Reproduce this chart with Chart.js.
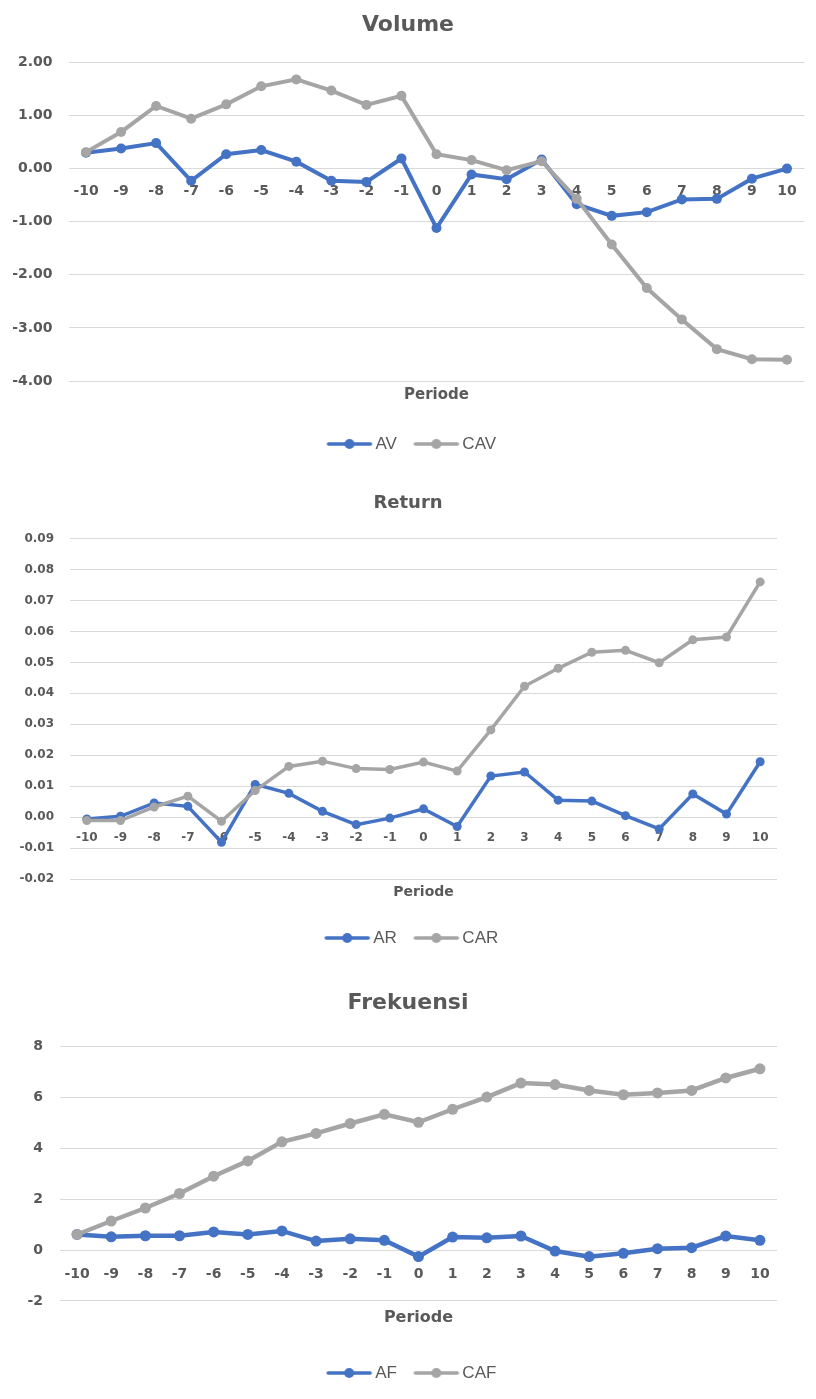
<!DOCTYPE html>
<html>
<head>
<meta charset="utf-8">
<title>Volume, Return, Frekuensi</title>
<script src="https://cdn.jsdelivr.net/npm/chart.js@4.4.1/dist/chart.umd.min.js"></script>
<style>
  body { margin: 0; background: #fff; }
  .box { position: absolute; left: 0; width: 816px; }
</style>
</head>
<body>
<div class="box" style="top:0;height:470px"><canvas id="volume-chart"></canvas></div>
<div class="box" style="top:480px;height:480px"><canvas id="return-chart"></canvas></div>
<div class="box" style="top:960px;height:439px"><canvas id="freq-chart"></canvas></div>
<script>
// periode -10 .. 10
const periods = ['-10', '-9', '-8', '-7', '-6', '-5', '-4', '-3', '-2', '-1', '0', '1', '2', '3', '4', '5', '6', '7', '8', '9', '10'];

// volume
const av  = [0.30, 0.38, 0.48, -0.23, 0.27, 0.35, 0.13, -0.23, -0.25, 0.19, -1.12, -0.11, -0.20, 0.17, -0.67, -0.89, -0.82, -0.58, -0.57, -0.19, 0.00];
const cav = [0.31, 0.69, 1.18, 0.94, 1.21, 1.55, 1.68, 1.47, 1.20, 1.37, 0.27, 0.16, -0.03, 0.14, -0.57, -1.43, -2.25, -2.84, -3.40, -3.59, -3.60];
const volumeTicks = [-4, -3, -2, -1, 0, 1, 2];

// return
const ar  = [-0.0006, 0.0003, 0.0046, 0.0035, -0.0081, 0.0106, 0.0077, 0.0019, -0.0024, -0.0003, 0.0027, -0.0030, 0.0133, 0.0146, 0.0055, 0.0052, 0.0005, -0.0038, 0.0075, 0.0010, 0.0179];
const car = [-0.0011, -0.0011, 0.0033, 0.0068, -0.0013, 0.0086, 0.0164, 0.0181, 0.0157, 0.0154, 0.0178, 0.0149, 0.0282, 0.0423, 0.0481, 0.0533, 0.0539, 0.0499, 0.0573, 0.0582, 0.0760];
const returnTicks = [-0.02, -0.01, 0, 0.01, 0.02, 0.03, 0.04, 0.05, 0.06, 0.07, 0.08, 0.09];

// frekuensi
const af  = [0.61, 0.52, 0.56, 0.56, 0.71, 0.61, 0.75, 0.35, 0.44, 0.38, -0.26, 0.51, 0.48, 0.55, -0.04, -0.26, -0.13, 0.05, 0.09, 0.55, 0.38];
const caf = [0.61, 1.14, 1.65, 2.22, 2.90, 3.50, 4.25, 4.58, 4.97, 5.33, 5.02, 5.53, 6.01, 6.56, 6.50, 6.27, 6.10, 6.17, 6.27, 6.76, 7.12];
const freqTicks = [-2, 0, 2, 4, 6, 8];

const blue = '#4472C4';
const grey = '#A5A5A5';
const textColor = '#595959';
const gridColor = '#D9D9D9';
const font = "'DejaVu Sans', Verdana, sans-serif";
const legendFont = "'Liberation Sans Narrow', 'Liberation Sans', Arial, sans-serif";

// excel style legend key: line with a dot in the middle, left part of the image kept empty
// so there is a gap after the previous entry
function legendKey(color) {
    const c = document.createElement('canvas');
    c.width = 60;
    c.height = 14;
    const g = c.getContext('2d');
    g.strokeStyle = color;
    g.lineWidth = 3.5;
    g.lineCap = 'round';
    g.beginPath();
    g.moveTo(15, 7);
    g.lineTo(57, 7);
    g.stroke();
    g.fillStyle = color;
    g.beginPath();
    g.arc(36, 7, 5, 0, Math.PI * 2);
    g.fill();
    return c;
}

function makeChart(id, s) {
    const ctx = document.getElementById(id).getContext('2d');
    const datasets = s.names.map((name, i) => ({
        label: name,
        data: s.series[i],
        borderColor: i === 0 ? blue : grey,
        backgroundColor: i === 0 ? blue : grey,
        pointBackgroundColor: i === 0 ? blue : grey,
        borderWidth: s.lineWidth,
        pointRadius: s.pointRadius,
        pointBorderWidth: 0,
        pointHoverRadius: s.pointRadius,
        tension: 0,
        order: i === 0 ? 1 : 0
    }));

    return new Chart(ctx, {
        type: 'line',
        data: { labels: periods, datasets: datasets },
        options: {
            responsive: true,
            maintainAspectRatio: false,
            animation: false,
            layout: { padding: { left: 0, right: 0, top: 0, bottom: s.bottom } },
            plugins: {
                title: {
                    display: true,
                    text: s.title,
                    color: textColor,
                    font: { family: font, size: s.titleSize, weight: 'bold' },
                    padding: s.titlePad
                },
                subtitle: {
                    display: true,
                    text: 'Periode',
                    position: 'bottom',
                    fullSize: false,
                    weight: 500,
                    color: textColor,
                    font: { family: font, size: s.periodeSize, weight: 'bold' },
                    padding: s.periodePad
                },
                legend: {
                    position: 'bottom',
                    labels: {
                        usePointStyle: true,
                        pointStyleWidth: 47,
                        padding: 10,
                        color: textColor,
                        font: { family: legendFont, size: 17 },
                        generateLabels: chart => chart.data.datasets.map((ds, i) => ({
                            text: ds.label,
                            pointStyle: legendKey(ds.borderColor),
                            fillStyle: ds.borderColor,
                            strokeStyle: ds.borderColor,
                            lineWidth: 0,
                            hidden: false,
                            datasetIndex: i,
                            fontColor: textColor
                        }))
                    }
                },
                tooltip: { enabled: false }
            },
            scales: {
                x: {
                    type: 'category',
                    position: { y: 0 },
                    offset: true,
                    grid: { display: false, drawTicks: false },
                    border: { display: false },
                    ticks: {
                        color: textColor,
                        padding: s.xPad,
                        autoSkip: false,
                        maxRotation: 0,
                        font: { family: font, size: s.tickSize, weight: 'bold' }
                    }
                },
                y: {
                    min: s.yTicks[0],
                    max: s.yTicks[s.yTicks.length - 1],
                    afterBuildTicks: scale => { scale.ticks = s.yTicks.map(v => ({ value: v })); },
                    afterFit: scale => { scale.width = s.left; },
                    grid: { color: gridColor, lineWidth: 1, drawTicks: false },
                    border: { display: false },
                    ticks: {
                        color: textColor,
                        padding: s.yPad,
                        font: { family: font, size: s.tickSize, weight: 'bold' },
                        callback: v => Number(v).toFixed(s.decimals)
                    }
                },
                // empty right side spacer so titles and legend stay centred on the page
                spacer: {
                    type: 'linear',
                    position: 'right',
                    afterFit: scale => { scale.width = s.right; },
                    grid: { display: false, drawTicks: false },
                    border: { display: false },
                    ticks: { display: false }
                }
            }
        }
    });
}

document.addEventListener('DOMContentLoaded', () => {
    makeChart('volume-chart', {
        title: 'Volume', titleSize: 22, titlePad: { top: 12, bottom: 24 },
        names: ['AV', 'CAV'], series: [av, cav],
        yTicks: volumeTicks, decimals: 2,
        tickSize: 14, periodeSize: 15, periodePad: { top: 5, bottom: 21.5 },
        left: 68.5, right: 11.5, bottom: 7.5, xPad: 14, yPad: 16,
        lineWidth: 4, pointRadius: 5
    });
    makeChart('return-chart', {
        title: 'Return', titleSize: 18, titlePad: { top: 13, bottom: 24 },
        names: ['AR', 'CAR'], series: [ar, car],
        yTicks: returnTicks, decimals: 2,
        tickSize: 12, periodeSize: 14, periodePad: { top: 4.6, bottom: 19 },
        left: 70, right: 39, bottom: 3.5, xPad: 13, yPad: 16,
        lineWidth: 3.5, pointRadius: 4.5
    });
    makeChart('freq-chart', {
        title: 'Frekuensi', titleSize: 22, titlePad: { top: 30, bottom: 30 },
        names: ['AF', 'CAF'], series: [af, caf],
        yTicks: freqTicks, decimals: 0,
        tickSize: 14, periodeSize: 16, periodePad: { top: 7.4, bottom: 27 },
        left: 60, right: 39, bottom: 7.5, xPad: 15.6, yPad: 17,
        lineWidth: 4.5, pointRadius: 5.5
    });
});
</script>
</body>
</html>
